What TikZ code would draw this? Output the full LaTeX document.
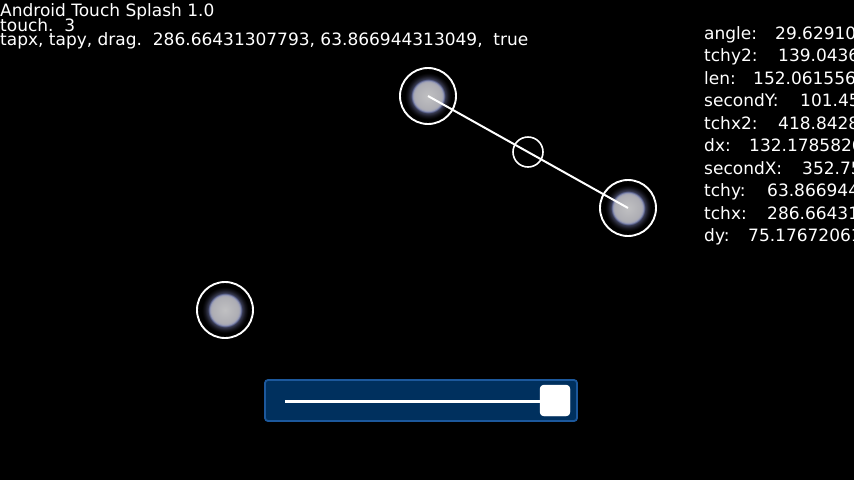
\documentclass[tikz,border=0pt]{standalone}
\usepackage{fontspec}
\setmainfont{DejaVu Sans}
\definecolor{gA}{RGB}{192,192,194}
\definecolor{gB}{RGB}{174,174,180}
\definecolor{gC}{RGB}{160,162,180}
\definecolor{gD}{RGB}{112,122,172}
\definecolor{gE}{RGB}{55,58,82}
\definecolor{gF}{RGB}{22,22,30}
\definecolor{sliderfill}{RGB}{0,48,94}
\definecolor{sliderborder}{RGB}{28,88,156}
\pgfdeclareradialshading{touchglow}{\pgfpoint{0bp}{0bp}}{color(0bp)=(gA); color(11.6bp)=(gB); color(13.3bp)=(gC); color(14.1bp)=(gD); color(15.3bp)=(gE); color(17.9bp)=(gF); color(20.5bp)=(black); color(25bp)=(black); color(50bp)=(black)}
\begin{document}
\begin{tikzpicture}[x=1pt,y=-1pt,
  txt/.style={font=\fontsize{17}{17}\selectfont, text=white, inner sep=0pt, anchor=base west},
  touch/.style={circle, minimum size=56pt, inner sep=0pt, draw=white, line width=1.9pt, shading=touchglow},
  midring/.style={circle, minimum size=30pt, inner sep=0pt, draw=white, line width=1.6pt},
  slidebox/.style={draw=sliderborder, fill=sliderfill, line width=1.8pt, rounded corners=3pt},
  thumb/.style={fill=white, rounded corners=4pt},
  track/.style={draw=white, line width=3pt}]
\useasboundingbox (0,0) rectangle (854,480);
\fill[black] (0,0) rectangle (854,480);
\clip (0,0) rectangle (854,480);
% header texts
\node[txt] (title) at (0,16.8) {Android Touch Splash 1.0};
\node[txt] (touchcount) at (0,31.5) {touch.\ \ 3};
\node[txt] (tap) at (0,45.5) {tapx, tapy, drag.\ \ 286.66431307793, 63.866944313049,\ \ true};
% right-hand readout
\node[txt] (l1) at (704,39) {angle:};      \node[txt] (v1) at (775,39) {29.629100};
\node[txt] (l2) at (704,61.5) {tchy2:};    \node[txt] (v2) at (778,61.5) {139.04366};
\node[txt] (l3) at (704,84) {len:};        \node[txt] (v3) at (753,84) {152.0615566};
\node[txt] (l4) at (704,106.5) {secondY:}; \node[txt] (v4) at (800,106.5) {101.455};
\node[txt] (l5) at (704,129) {tchx2:};     \node[txt] (v5) at (778,129) {418.84288};
\node[txt] (l6) at (704,151.5) {dx:};      \node[txt] (v6) at (749,151.5) {132.17858266};
\node[txt] (l7) at (704,174) {secondX:};   \node[txt] (v7) at (802,174) {352.755};
\node[txt] (l8) at (704,196.5) {tchy:};    \node[txt] (v8) at (767,196.5) {63.8669443};
\node[txt] (l9) at (704,219) {tchx:};      \node[txt] (v9) at (767,219) {286.664313};
\node[txt] (l10) at (704,241.5) {dy:};     \node[txt] (v10) at (748,241.5) {75.17672061};
% touches
\node[touch] (t1) at (428,96) {};
\node[touch] (t2) at (628,208) {};
\node[touch] (t3) at (225,310) {};
\draw[white, line width=2pt] (t1.center) -- (t2.center);
\node[midring] (mid) at (528,152) {};
% slider
\draw[slidebox] (265,380) rectangle (577,421);
\coordinate (trackstart) at (285,401);
\node[thumb, minimum width=30pt, minimum height=31pt, inner sep=0pt] (knob) at (555,400.5) {};
\draw[track] (trackstart) -- (knob.west |- trackstart);
\fill[white, rounded corners=4pt] (knob.south west) rectangle (knob.north east);
\end{tikzpicture}
\end{document}
